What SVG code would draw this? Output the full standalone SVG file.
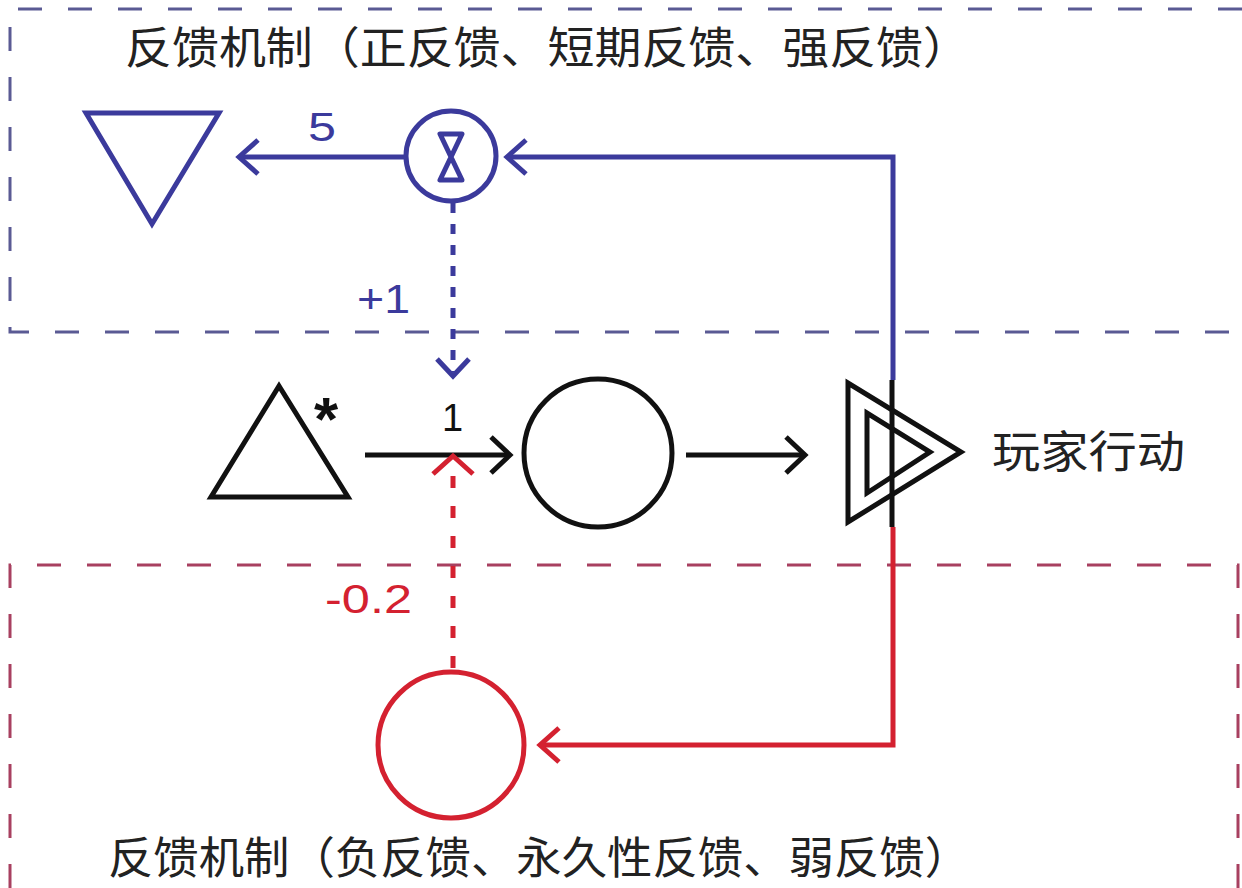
<svg xmlns="http://www.w3.org/2000/svg" width="1242" height="888" viewBox="0 0 1242 888">
<defs>
<style>
.zh{font-family:"Noto Sans CJK SC","Noto Sans CJK JP",sans-serif;fill:#222;}
.num{font-family:"Liberation Sans",Arial,sans-serif;}
.bl{stroke:#3b3a9c;fill:none;stroke-width:5;}
.rd{stroke:#d42130;fill:none;stroke-width:5;}
.bk{stroke:#111;fill:none;stroke-width:5;}
.boxb{stroke:#5a5a94;fill:none;stroke-width:3;stroke-dasharray:24 26;}
.boxr{stroke:#a84060;fill:none;stroke-width:3;stroke-dasharray:24 26;}
</style>
</defs>
<rect width="1242" height="888" fill="#ffffff"/>
<g id="frames">
<path class="boxb" d="M1242,9 H10 V332 H1242" stroke="#555566"/>
<path class="boxr" d="M10,888 V565 H1238 V888"/>
</g>
<g id="title-top"><text class="zh" x="125" y="64" font-size="44" textLength="845" lengthAdjust="spacingAndGlyphs">反馈机制（正反馈、短期反馈、强反馈）</text></g>
<g id="title-bottom"><text class="zh" x="108" y="874" font-size="44" textLength="862" lengthAdjust="spacingAndGlyphs">反馈机制（负反馈、永久性反馈、弱反馈）</text></g>
<g id="drain"><polygon class="bl" points="86,113 219,113 152,224" stroke-linejoin="miter"/></g>
<g id="converter">
<circle class="bl" cx="451" cy="156" r="45"/>
<path class="bl" d="M440,134 H462 L440,180 H462 Z" stroke-width="4.5" stroke-linejoin="round"/>
</g>
<g id="source">
<polygon class="bk" points="211,497 348,497 279,386"/>
<text class="num" x="314" y="440" font-size="62" font-weight="bold" fill="#111">*</text>
</g>
<g id="pool"><circle class="bk" cx="598" cy="453" r="74"/></g>
<g id="gate">
<polygon class="bk" points="848,383 848,522 961,452"/>
<polygon class="bk" points="867,413 867,493 930,452"/>
<line class="bk" x1="892" y1="380" x2="892" y2="527"/>
<text class="zh" x="992" y="468" font-size="44" textLength="193" lengthAdjust="spacingAndGlyphs">玩家行动</text>
</g>
<g id="red-pool"><circle class="rd" cx="451" cy="745" r="73"/></g>
<g id="connectors">
<path class="bl" d="M404,157 H239"/>
<path class="bl" d="M258,140 L239,157 L258,174"/>
<text class="num" x="308" y="141" font-size="40" fill="#3b3a9c" textLength="28" lengthAdjust="spacingAndGlyphs">5</text>
<path class="bl" d="M893,380 V157 H507"/>
<path class="bl" d="M526,140 L507,157 L526,174"/>
<path class="bl" d="M453,203 V372" stroke-dasharray="10 11" stroke-width="4"/>
<path class="bl" d="M437,359 L453,376 L469,359" stroke-width="4"/>
<text class="num" x="357" y="313" font-size="40" fill="#3b3a9c" textLength="53" lengthAdjust="spacingAndGlyphs">+1</text>
<path class="bk" d="M365,455 H508"/>
<path class="bk" d="M491,437 L510,455 L491,473"/>
<text class="num" x="442" y="431" font-size="38" fill="#111">1</text>
<path class="bk" d="M686,455 H804"/>
<path class="bk" d="M786,437 L805,455 L786,473"/>
<path class="rd" d="M893,527 V745 H540"/>
<path class="rd" d="M559,728 L540,745 L559,762"/>
<path class="rd" d="M453,668 V472" stroke-dasharray="12 18" stroke-width="4"/>
<path class="rd" d="M433,474 L453,456 L473,474" stroke-width="4"/>
<text class="num" x="325" y="613" font-size="40" fill="#d42130" textLength="87" lengthAdjust="spacingAndGlyphs">-0.2</text>
</g>
</svg>
